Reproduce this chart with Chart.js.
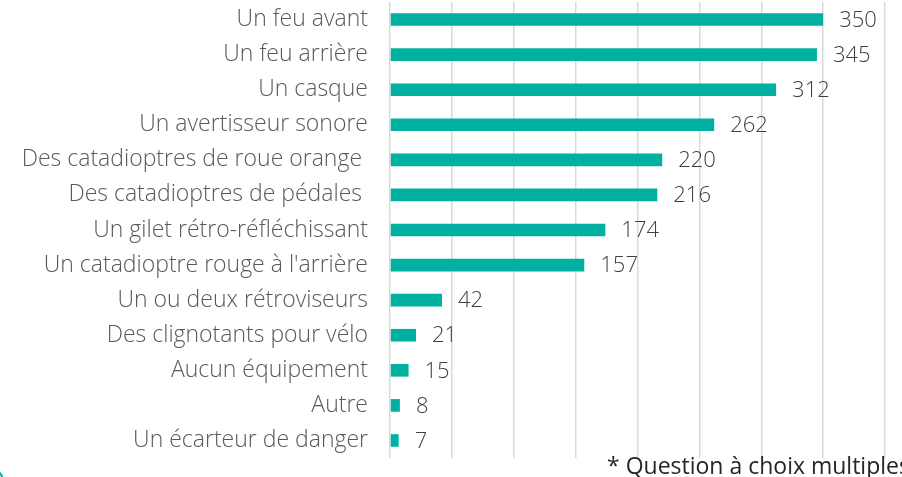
<!DOCTYPE html>
<html>
<head>
<meta charset="utf-8">
<script src="https://cdn.jsdelivr.net/npm/chart.js@4.4.1/dist/chart.umd.min.js"></script>
<style>
  html, body { margin: 0; padding: 0; background: #fff; overflow: hidden; }
  #wrap { position: relative; width: 902px; height: 477px; overflow: hidden; }
  /* corner of the teal frame peeking in at the bottom left */
  .frame-corner {
    position: absolute; left: -40px; top: 469px; width: 42px; height: 30px;
    border-top: 2px solid #00b1a1; border-right: 2px solid #00b1a1;
    border-top-right-radius: 12px;
  }
</style>
</head>
<body>
<div id="wrap">
  <canvas id="chart" width="902" height="477"></canvas>
  <div class="frame-corner"></div>
</div>
<script>
// equipment categories, top to bottom
const equipments = [
  "Un feu avant",
  "Un feu arrière",
  "Un casque",
  "Un avertisseur sonore",
  "Des catadioptres de roue orange ",
  "Des catadioptres de pédales ",
  "Un gilet rétro-réfléchissant",
  "Un catadioptre rouge à l'arrière",
  "Un ou deux rétroviseurs",
  "Des clignotants pour vélo",
  "Aucun équipement",
  "Autre",
  "Un écarteur de danger"
];
const answers = [350, 345, 312, 262, 220, 216, 174, 157, 42, 21, 15, 8, 7];
const footnote = "* Question à choix multiples";

const FONT = "'Open Sans', 'DejaVu Sans', sans-serif";

// prints the count at the end of each bar
const valueLabels = {
  id: "valueLabels",
  afterDatasetsDraw(chart) {
    const ctx = chart.ctx;
    const meta = chart.getDatasetMeta(0);
    ctx.save();
    ctx.font = "300 22px " + FONT;
    ctx.fillStyle = "#404040";
    ctx.textAlign = "left";
    ctx.textBaseline = "middle";
    meta.data.forEach((bar, i) => {
      ctx.fillText(String(answers[i]), bar.x + 16, bar.y + 1);
    });
    ctx.restore();
  }
};

// footnote under the plot
const footnotePlugin = {
  id: "footnote",
  afterDraw(chart) {
    const ctx = chart.ctx;
    ctx.save();
    ctx.font = "400 23px " + FONT;
    ctx.fillStyle = "#262626";
    ctx.textAlign = "left";
    ctx.textBaseline = "alphabetic";
    ctx.fillText(footnote, 607, 474);
    ctx.restore();
  }
};

new Chart(document.getElementById("chart"), {
  type: "bar",
  data: {
    labels: equipments,
    datasets: [{
      data: answers,
      backgroundColor: "#00b1a1",
      borderWidth: 0,
      categoryPercentage: 0.8,
      barPercentage: 0.45
    }]
  },
  options: {
    indexAxis: "y",
    responsive: false,
    animation: false,
    layout: { padding: { top: 2, right: 17, bottom: 19, left: 0 } },
    plugins: {
      legend: { display: false },
      tooltip: { enabled: false }
    },
    scales: {
      x: {
        min: 0,
        max: 400,
        ticks: { display: false, stepSize: 50 },
        grid: { color: "#d9d9d9", lineWidth: 1.5, drawTicks: false },
        border: { display: false },
        afterFit(scale) { scale.height = 0; }
      },
      y: {
        grid: { display: false, drawTicks: false },
        border: { display: false },
        ticks: {
          padding: 22,
          color: "#595959",
          font: { family: FONT, size: 23, weight: 300 }
        },
        afterFit(scale) {
          // fixed label column, no extra room above/below the bars
          scale.width = 390;
          scale.paddingTop = 0;
          scale.paddingBottom = 0;
        }
      }
    }
  },
  plugins: [valueLabels, footnotePlugin]
});
</script>
</body>
</html>
